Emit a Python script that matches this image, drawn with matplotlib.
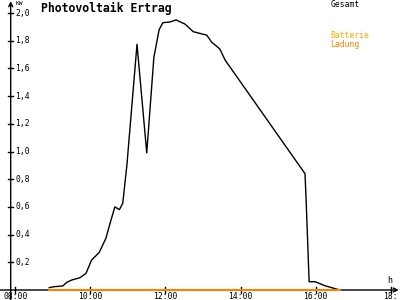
import matplotlib.pyplot as plt

# Gesamt (kW) over time of day (hours)
hours = [8.90, 9.03, 9.26, 9.37, 9.50, 9.72, 9.88, 10.03, 10.23, 10.41, 10.52,
         10.65, 10.77, 10.86, 10.97, 11.24, 11.50, 11.69, 11.83, 11.93, 12.12,
         12.28, 12.52, 12.74, 13.10, 13.23, 13.45, 13.59, 15.72, 15.75, 15.83,
         15.99, 16.25, 16.65]
gesamt = [0.017, 0.024, 0.029, 0.056, 0.072, 0.089, 0.12, 0.217, 0.27, 0.373, 0.48,
          0.60, 0.58, 0.626, 0.90, 1.774, 0.99, 1.68, 1.88, 1.93, 1.935,
          1.95, 1.92, 1.865, 1.84, 1.79, 1.74, 1.66, 0.84, 0.65, 0.06,
          0.06, 0.031, 0.0]
ladung_hours = [8.90, 16.65]
ladung = [0.0, 0.0]

x_ticks = [8, 10, 12, 14, 16, 18]
x_labels = ['08:00', '10:00', '12:00', '14:00', '16:00', '18:']
y_ticks = [0.2, 0.4, 0.6, 0.8, 1.0, 1.2, 1.4, 1.6, 1.8, 2.0]
y_labels = ['0,2', '0,4', '0,6', '0,8', '1,0', '1,2', '1,4', '1,6', '1,8', '2,0']

fig = plt.figure(figsize=(4, 3), dpi=100)
ax = fig.add_axes([0, 0, 1, 1])
ax.set_xlim(7.5867, 18.2533)
ax.set_ylim(-0.0722, 2.0939)
ax.axis('off')

mono = 'DejaVu Sans Mono'
y0 = 7.872  # position of the y axis

# axes with arrows
ax.annotate('', xy=(18.22, 0), xytext=(7.5867, 0),
            arrowprops=dict(arrowstyle='->', lw=1, color='black', shrinkA=0, shrinkB=0,
                            mutation_scale=7))
ax.annotate('', xy=(y0, 2.085), xytext=(y0, -0.0722),
            arrowprops=dict(arrowstyle='->', lw=1, color='black', shrinkA=0, shrinkB=0,
                            mutation_scale=7))

for t, lab in zip(x_ticks, x_labels):
    ax.plot([t, t], [0.025, -0.025], color='black', lw=1)
    ax.text(t, -0.045, lab, ha='center', va='center', fontsize=5.8, family=mono)

for t, lab in zip(y_ticks, y_labels):
    ax.plot([y0 - 0.07, y0 + 0.07], [t, t], color='black', lw=1)
    ax.text(y0 + 0.12, t, lab, ha='left', va='center', fontsize=5.8, family=mono)

ax.text(y0 + 0.13, 2.07, 'KW', ha='left', va='center', fontsize=4.5, family=mono)
ax.text(17.97, 0.07, 'h', ha='center', va='center', fontsize=6, family=mono)

ax.text(8.67, 2.03, 'Photovoltaik Ertrag', ha='left', va='center', fontsize=8.3,
        family=mono, fontweight='bold')

ax.text(16.4, 2.065, 'Gesamt', ha='left', va='center', fontsize=5.8, family=mono,
        color='black')
ax.text(16.4, 1.835, 'Batterie', ha='left', va='center', fontsize=5.8, family=mono,
        color='#ffaa00')
ax.text(16.4, 1.775, 'Ladung', ha='left', va='center', fontsize=5.8, family=mono,
        color='#ff8000')

ax.plot(hours, gesamt, color='black', lw=1, zorder=4)
ax.plot(ladung_hours, ladung, color='#ff8000', lw=1.5, zorder=5)

fig.savefig('out.png', dpi=100)
